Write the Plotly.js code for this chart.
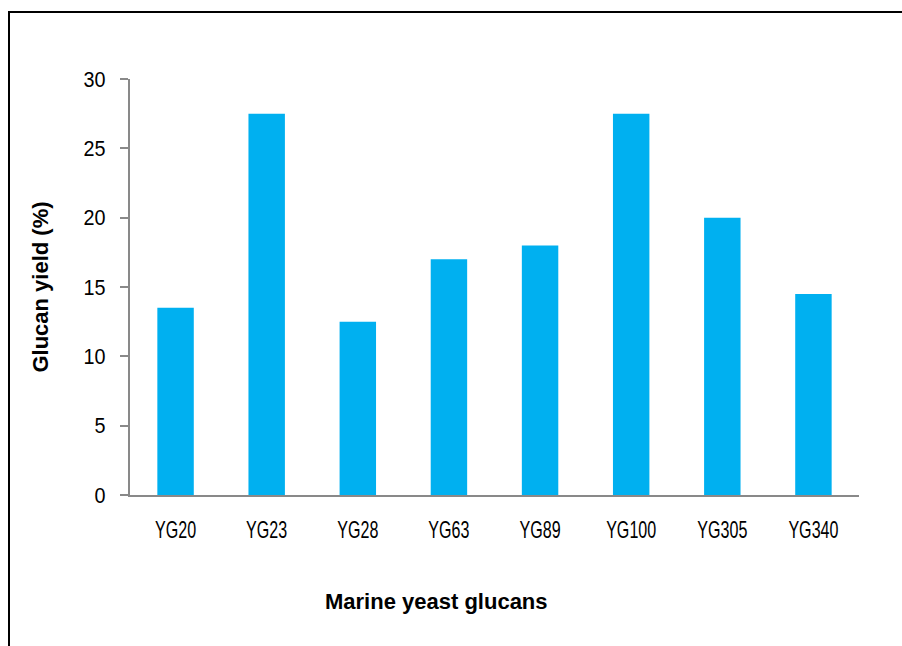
<!DOCTYPE html>
<html>
<head>
<meta charset="utf-8">
<script src="https://cdn.plot.ly/plotly-3.0.1.min.js"></script>
<style>
  html, body { margin: 0; padding: 0; background: #fff; overflow: hidden; }
  #chart { width: 902px; height: 646px; }
  #frame {
    position: absolute; left: 8px; top: 11px; width: 920px; height: 660px;
    border-left: 2px solid #000; border-top: 2px solid #000;
    pointer-events: none; box-sizing: border-box;
  }
</style>
</head>
<body>
<div id="chart"></div>
<div id="frame"></div>
<script>
// Glucan yield of marine yeast isolates
const strains = ["YG20", "YG23", "YG28", "YG63", "YG89", "YG100", "YG305", "YG340"];
const glucanYield = [13.5, 27.5, 12.5, 17, 18, 27.5, 20, 14.5];
const yTicks = [0, 5, 10, 15, 20, 25, 30];

const font = "'Liberation Sans', Arial, sans-serif";

const trace = {
  type: "bar",
  x: strains,
  y: glucanYield,
  marker: { color: "#00B0F0", line: { width: 0 } },
  hoverinfo: "x+y"
};

const layout = {
  width: 902,
  height: 646,
  margin: { l: 130, r: 43, t: 79, b: 151 },
  paper_bgcolor: "#ffffff",
  plot_bgcolor: "#ffffff",
  bargap: 0.6,
  showlegend: false,
  font: { family: font, color: "#000" },
  xaxis: {
    type: "category",
    showline: true,
    linecolor: "#898989",
    linewidth: 2,
    ticks: "",
    showgrid: false,
    zeroline: false,
    tickfont: { family: font, size: 23, color: "#000" },
    ticklabelstandoff: 13
  },
  yaxis: {
    range: [0, 30],
    tickvals: yTicks,
    ticktext: yTicks.map(String),
    showline: true,
    linecolor: "#898989",
    linewidth: 2,
    ticks: "outside",
    ticklen: 8,
    tickwidth: 2,
    tickcolor: "#898989",
    showgrid: false,
    zeroline: false,
    tickfont: { family: font, size: 22, color: "#000" },
    ticklabelstandoff: 10,
    title: {
      text: "<b>Glucan yield (%)</b>",
      font: { family: font, size: 22, color: "#000" },
      standoff: 26
    }
  },
  annotations: [{
    text: "<b>Marine yeast glucans</b>",
    xref: "paper", yref: "paper",
    x: 0.421, y: -0.255,
    xanchor: "center", yanchor: "middle",
    showarrow: false,
    font: { family: font, size: 22, color: "#000" }
  }]
};

// Narrow the tick labels horizontally, keeping each label's anchor point fixed
function condense(selector, s) {
  document.querySelectorAll(selector).forEach(t => {
    const x = parseFloat(t.getAttribute("x")) || 0;
    const base = t.getAttribute("transform") || "";
    t.setAttribute("transform", base + ` translate(${x},0) scale(${s},1) translate(${-x},0)`);
  });
}

Plotly.newPlot("chart", [trace], layout, { displayModeBar: false, staticPlot: true })
  .then(() => {
    condense(".xtick text", 0.7);
    condense(".ytick text", 0.9);
  });
</script>
</body>
</html>
